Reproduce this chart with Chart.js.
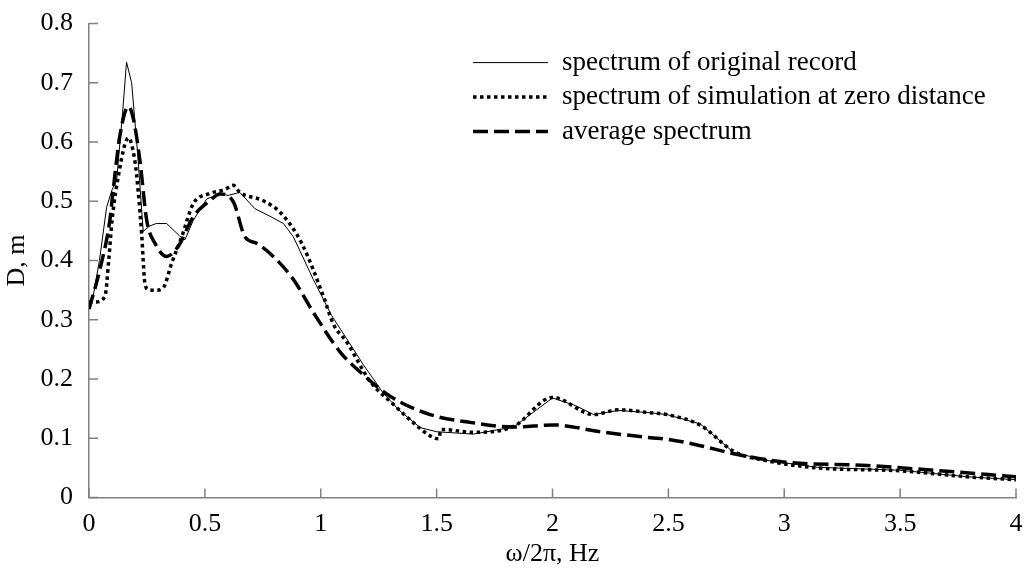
<!DOCTYPE html>
<html>
<head>
<meta charset="utf-8">
<script src="https://cdn.jsdelivr.net/npm/chart.js@4"></script>
<style>
  body { margin: 0; background: #fff; }
  canvas { display: block; }
</style>
</head>
<body>
<canvas id="spectrumChart" width="1029" height="572"></canvas>
<script>
// frequency (Hz) and D (m)
const origX = [0, 0.018, 0.045, 0.076, 0.1, 0.119, 0.145, 0.162, 0.184, 0.21, 0.234, 0.26, 0.29, 0.335, 0.39, 0.414, 0.45, 0.508, 0.565, 0.6, 0.651, 0.716, 0.78, 0.839, 0.882, 0.968, 1.047, 1.112, 1.184, 1.27, 1.342, 1.429, 1.5, 1.659, 1.832, 2.0, 2.1, 2.177, 2.285, 2.422, 2.494, 2.638, 2.782, 2.926, 3.142, 3.5, 3.79, 4.0];
const origY = [0.318, 0.34, 0.4, 0.49, 0.52, 0.535, 0.65, 0.735, 0.7, 0.58, 0.449, 0.458, 0.4625, 0.4625, 0.442, 0.435, 0.468, 0.504, 0.5125, 0.51, 0.515, 0.4875, 0.475, 0.4625, 0.44, 0.368, 0.307, 0.268, 0.224, 0.176, 0.146, 0.118, 0.111, 0.107, 0.119, 0.168, 0.155, 0.14, 0.147, 0.143, 0.14, 0.124, 0.076, 0.0625, 0.051, 0.046, 0.035, 0.03];

const simX = [0, 0.03, 0.069, 0.085, 0.1, 0.13, 0.155, 0.17, 0.198, 0.212, 0.227, 0.241, 0.256, 0.29, 0.32, 0.357, 0.4, 0.45, 0.515, 0.587, 0.623, 0.651, 0.752, 0.831, 0.918, 1.011, 1.054, 1.112, 1.213, 1.314, 1.4, 1.472, 1.508, 1.52, 1.659, 1.832, 2.0, 2.177, 2.285, 2.422, 2.494, 2.638, 2.782, 2.926, 3.142, 3.5, 3.79, 4.0];
const simY = [0.33, 0.33, 0.34, 0.4, 0.47, 0.55, 0.596, 0.607, 0.568, 0.518, 0.446, 0.3625, 0.351, 0.35, 0.354, 0.396, 0.44, 0.496, 0.5125, 0.52, 0.527, 0.515, 0.501, 0.479, 0.429, 0.34, 0.293, 0.2625, 0.196, 0.157, 0.126, 0.104, 0.099, 0.115, 0.11, 0.12, 0.169, 0.14, 0.148, 0.143, 0.14, 0.122, 0.078, 0.062, 0.05, 0.045, 0.035, 0.03];

const avgX = [0, 0.047, 0.09, 0.104, 0.134, 0.17, 0.191, 0.22, 0.249, 0.285, 0.335, 0.385, 0.45, 0.522, 0.565, 0.623, 0.673, 0.724, 0.795, 0.882, 0.968, 1.083, 1.184, 1.299, 1.472, 1.659, 1.832, 2.004, 2.206, 2.422, 2.494, 2.638, 2.782, 2.997, 3.358, 3.645, 4.0];
const avgY = [0.318, 0.385, 0.468, 0.518, 0.6125, 0.66, 0.64, 0.568, 0.468, 0.429, 0.407, 0.424, 0.474, 0.501, 0.5125, 0.499, 0.44, 0.429, 0.407, 0.368, 0.3125, 0.246, 0.207, 0.171, 0.14, 0.126, 0.119, 0.1225, 0.111, 0.101, 0.0985, 0.0875, 0.074, 0.06, 0.054, 0.046, 0.035];

const seriesNames = ["spectrum of original record", "spectrum of simulation at zero distance", "average spectrum"];

const xTitle = "ω/2π, Hz";
const yTitle = "D, m";

const FONT = "'Liberation Serif', 'Times New Roman', serif";
const AXIS_GREY = "#808080";

function pts(xs, ys) {
    return xs.map((x, i) => ({ x: x, y: ys[i] }));
}

// 1 instead of 1.0, 0.3 instead of 0.30000000000000004
function tickText(v) {
    return String(Math.round(v * 10) / 10);
}

// tick marks pointing into the plot
const innerTicks = {
    id: "innerTicks",
    afterDraw(chart) {
        const ctx = chart.ctx;
        const xs = chart.scales.x, ys = chart.scales.y;
        const len = 9;
        ctx.save();
        ctx.strokeStyle = AXIS_GREY;
        ctx.lineWidth = 1.5;
        ctx.beginPath();
        xs.ticks.forEach(t => {
            const p = xs.getPixelForValue(t.value);
            ctx.moveTo(p, ys.bottom);
            ctx.lineTo(p, ys.bottom - len);
        });
        ys.ticks.forEach(t => {
            const p = ys.getPixelForValue(t.value);
            ctx.moveTo(xs.left, p);
            ctx.lineTo(xs.left + len, p);
        });
        ctx.stroke();
        ctx.restore();
    }
};

// legend drawn inside the plot, top right
const lineLegend = {
    id: "lineLegend",
    afterDraw(chart) {
        const ctx = chart.ctx;
        const area = chart.chartArea;
        const x0 = area.left + 384, x1 = area.left + 459, tx = area.left + 473;
        let y = area.top + 39;
        ctx.save();
        ctx.font = "27px " + FONT;
        ctx.textBaseline = "middle";
        ctx.fillStyle = "#000";
        chart.data.datasets.forEach(ds => {
            ctx.strokeStyle = "#000";
            ctx.lineWidth = ds.borderWidth;
            ctx.setLineDash(ds.borderDash || []);
            ctx.beginPath();
            ctx.moveTo(x0, y);
            ctx.lineTo(x1, y);
            ctx.stroke();
            ctx.setLineDash([]);
            ctx.fillText(ds.label, tx, y);
            y += 34.5;
        });
        ctx.restore();
    }
};

const ctx = document.getElementById("spectrumChart").getContext("2d");
const spectrumChart = new Chart(ctx, {
    type: "line",
    data: {
        datasets: [
            {
                label: seriesNames[0],
                data: pts(origX, origY),
                borderColor: "#000",
                borderWidth: 1,
                tension: 0,
            },
            {
                label: seriesNames[1],
                data: pts(simX, simY),
                borderColor: "#000",
                borderWidth: 3.5,
                borderDash: [3.5, 3.5],
                cubicInterpolationMode: "monotone",
            },
            {
                label: seriesNames[2],
                data: pts(avgX, avgY),
                borderColor: "#000",
                borderWidth: 3.5,
                borderDash: [15, 6],
                cubicInterpolationMode: "monotone",
            },
        ],
    },
    options: {
        responsive: false,
        animation: false,
        layout: { padding: { top: 17, right: 13, left: 0, bottom: 0 } },
        elements: { point: { radius: 0 } },
        plugins: {
            legend: { display: false },
            tooltip: { enabled: false },
        },
        scales: {
            x: {
                type: "linear",
                min: 0,
                max: 4,
                ticks: {
                    stepSize: 0.5,
                    padding: 3,
                    color: "#000",
                    font: { family: FONT, size: 26 },
                    callback: tickText,
                },
                grid: { display: false },
                border: { display: true, color: AXIS_GREY, width: 1.5 },
                title: {
                    display: true,
                    text: xTitle,
                    color: "#000",
                    font: { family: FONT, size: 26 },
                    padding: { top: 2, bottom: 2 },
                },
                afterFit(scale) { scale.height = 74.5; },
            },
            y: {
                min: 0,
                max: 0.8,
                ticks: {
                    stepSize: 0.1,
                    padding: 8,
                    color: "#000",
                    font: { family: FONT, size: 26 },
                    callback: tickText,
                },
                grid: { display: false },
                border: { display: true, color: AXIS_GREY, width: 1.5 },
                title: {
                    display: true,
                    text: yTitle,
                    color: "#000",
                    font: { family: FONT, size: 26 },
                    padding: { top: 2, bottom: 0 },
                },
                afterFit(scale) { scale.width = 89; },
            },
        },
    },
    plugins: [innerTicks, lineLegend],
});
</script>
</body>
</html>
